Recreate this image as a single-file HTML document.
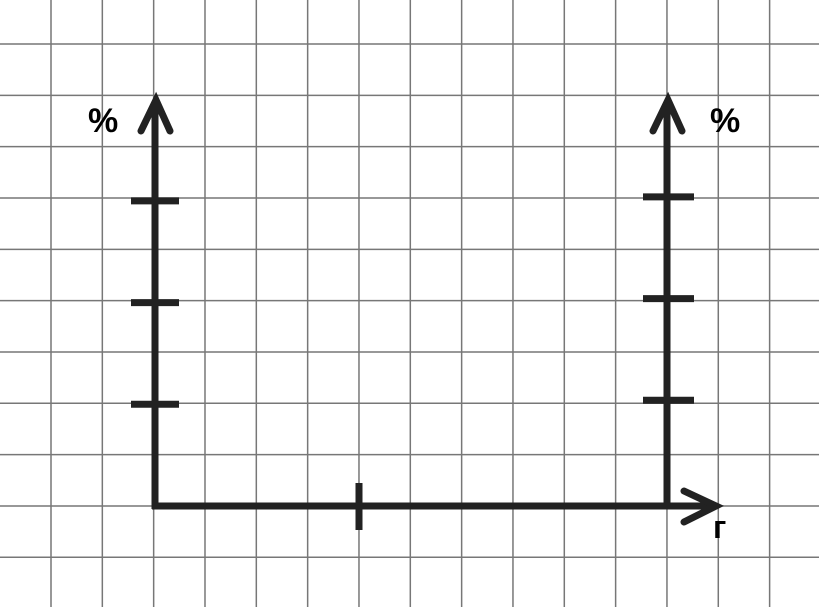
<!DOCTYPE html>
<html><head><meta charset="utf-8"><style>html,body{margin:0;padding:0;background:#fff;overflow:hidden}svg{display:block}</style></head>
<body>
<svg id="c" width="819" height="607" viewBox="0 0 819 607" xmlns="http://www.w3.org/2000/svg">
<g id="grid" stroke="#777" stroke-width="1.5"></g>
<g id="axes" stroke="#222" stroke-width="7" fill="none" stroke-linecap="butt">
 <line x1="155" y1="509" x2="155" y2="102"/>
 <polyline stroke-linecap="round" stroke-linejoin="miter" points="141,131 156,100 170,131"/>
 <line x1="667" y1="509" x2="667" y2="102"/>
 <polyline stroke-linecap="round" points="653,131 668,100 682,131"/>
 <line x1="152" y1="506" x2="714" y2="506"/>
 <polyline stroke-linecap="round" points="684,491 716,506 684,522"/>
</g>
<g id="ticks" stroke="#222" stroke-width="7"></g>
<g font-family="Liberation Sans, sans-serif" font-weight="bold" fill="#000">
 <text x="88" y="132" font-size="34">%</text>
 <text x="710" y="132" font-size="34">%</text>
 <text x="713" y="538" font-size="32">г</text>
</g>
</svg>
<script>
const leftTicks = [1, 2, 3];
const rightTicks = [1, 2, 3];
const xTicks = [1];
const ns = 'http://www.w3.org/2000/svg';
const g = document.getElementById('grid');
for (let i = 0; i < 16; i++) {
  const x = 51 + i * 51.33;
  const l = document.createElementNS(ns, 'line');
  l.setAttribute('x1', x); l.setAttribute('x2', x); l.setAttribute('y1', 0); l.setAttribute('y2', 607);
  
  
  g.appendChild(l);
}
for (let i = 0; i < 12; i++) {
  const y = 44 + i * 51.33;
  const l = document.createElementNS(ns, 'line');
  l.setAttribute('y1', y); l.setAttribute('y2', y); l.setAttribute('x1', 0); l.setAttribute('x2', 819);
  
  
  g.appendChild(l);
}
const t = document.getElementById('ticks');
const yL = v => 506 - v * 101.7;
const yR = v => 502 - v * 101.7;
const xS = v => 155 + v * 204;
function tick(x1, y1, x2, y2, name) {
  const l = document.createElementNS(ns, 'line');
  l.setAttribute('x1', x1); l.setAttribute('y1', y1); l.setAttribute('x2', x2); l.setAttribute('y2', y2);
  
  
  t.appendChild(l);
}
leftTicks.forEach(v => tick(131, yL(v), 179, yL(v), 'left-y-tick'));
rightTicks.forEach(v => tick(643, yR(v), 694, yR(v), 'right-y-tick'));
xTicks.forEach(v => tick(xS(v), 483, xS(v), 530, 'x-tick'));
</script>
</body></html>
